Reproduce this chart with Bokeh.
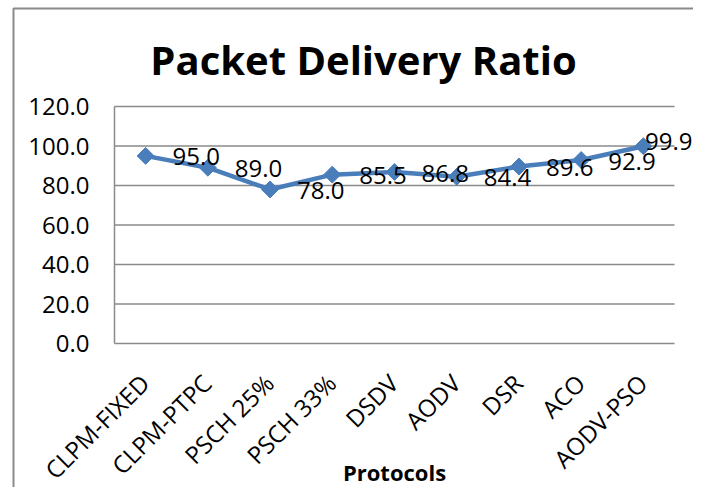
from bokeh.plotting import figure
from bokeh.embed import file_html
from bokeh.resources import INLINE
from bokeh.models import ColumnDataSource, Range1d
from bokeh.core.properties import value
from math import pi

protocols = ["CLPM-FIXED", "CLPM-PTPC", "PSCH 25%", "PSCH 33%", "DSDV", "AODV", "DSR", "ACO", "AODV-PSO"]
pdr = [95.0, 89.0, 78.0, 85.5, 86.8, 84.4, 89.6, 92.9, 99.9]
pdr_labels = ["95.0", "89.0", "78.0", "85.5", "86.8", "84.4", "89.6", "92.9", "99.9"]
y_ticks = [0, 20, 40, 60, 80, 100, 120]
y_tick_labels = ["0.0", "20.0", "40.0", "60.0", "80.0", "100.0", "120.0"]
title_text = "Packet Delivery Ratio"
x_title = "Protocols"

FONT = "Open Sans"
BLUE = "#4a7ebb"
GRID = "#8a8a8a"

# ---- layout (pixels) ----
W, H = 693, 487
PL, PR, PT, PB = 114, 674, 106, 343      # plot area
n = len(protocols)
ymin, ymax = y_ticks[0], y_ticks[-1]
sx = (PR - PL) / n
sy = (PB - PT) / (ymax - ymin)
x_range = Range1d(-PL / sx, n + (W - PR) / sx)
y_range = Range1d(ymin - (H - PB) / sy, ymax + PT / sy)

def xpx(px):   # canvas pixel -> data x
    return (px - PL) / sx

def ypx(py):   # canvas pixel -> data y
    return ymax + (PT - py) / sy

p = figure(width=W, height=H, x_range=x_range, y_range=y_range,
           output_backend="svg", toolbar_location=None,
           x_axis_location=None, y_axis_location=None, min_border=0)
p.grid.visible = False
p.outline_line_color = None
p.background_fill_color = "white"
p.border_fill_color = "white"

xs = [i + 0.5 for i in range(n)]   # category centres
src = ColumnDataSource(dict(x=xs, y=pdr, lab=pdr_labels, cat=protocols))

# chart-area border (left and top edges)
bx, by = xpx(13), ypx(8)
p.line([bx, bx, x_range.end + 1], [y_range.start - 1, by, by], line_color=GRID, line_width=2)

# gridlines and value axis line
p.segment(x0=[0] * len(y_ticks), x1=[n] * len(y_ticks), y0=y_ticks, y1=y_ticks,
          line_color=GRID, line_width=1.5)
p.segment(x0=[0], x1=[0], y0=[ymin], y1=[ymax], line_color=GRID, line_width=1.5)

# y tick labels
p.text(x=[0] * len(y_ticks), y=y_ticks, text=y_tick_labels, x_offset=-25,
       text_align="right", text_baseline="middle",
       text_font=value(FONT), text_font_size="24px", text_color="black")

# category labels (rotated 45 degrees, ending under each category)
p.text(x=xs, y=[ymin] * n, text=protocols, angle=pi / 4, x_offset=-1, y_offset=35,
       text_align="right", text_baseline="middle",
       text_font=value(FONT), text_font_size="24px", text_color="black")

# series
p.line("x", "y", source=src, line_color=BLUE, line_width=4.5)
p.scatter("x", "y", source=src, marker="square", size=12, angle=pi / 4,
          fill_color=BLUE, line_color=BLUE)

# data labels
p.text(x=xs[:-1], y=pdr[:-1], text=pdr_labels[:-1], x_offset=27, y_offset=1,
       text_align="left", text_baseline="middle",
       text_font=value(FONT), text_font_size="24px", text_color="black")
p.text(x=[x_range.end], y=pdr[-1:], text=pdr_labels[-1:], x_offset=-1, y_offset=-5,
       text_align="right", text_baseline="middle",
       text_font=value(FONT), text_font_size="24px", text_color="black")

# axis title
p.text(x=[n / 2], y=[ymin], text=[x_title], y_offset=128,
       text_align="center", text_baseline="middle",
       text_font=value(FONT), text_font_size="22px", text_font_style="bold",
       text_color="black")

# chart title
p.text(x=[xpx(363)], y=[ymax], text=[title_text], y_offset=-47,
       text_align="center", text_baseline="middle",
       text_font=value(FONT), text_font_size="40px", text_font_style="bold",
       text_color="black")

open("out.html", "w").write(file_html(p, INLINE))
